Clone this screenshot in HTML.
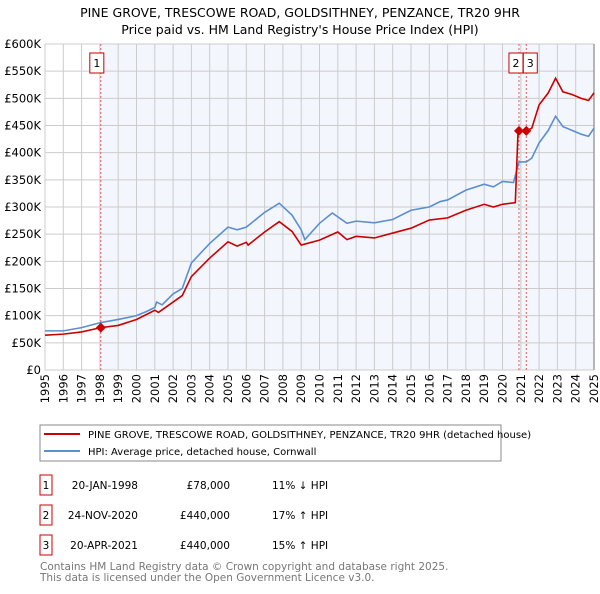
<!DOCTYPE html>
<html><head><meta charset="utf-8"><style>
body{margin:0;background:#fff;font-family:"DejaVu Sans","Liberation Sans",sans-serif;}
svg text{font-family:"DejaVu Sans","Liberation Sans",sans-serif;}
</style></head><body>
<svg id="chart" width="600" height="590" xmlns="http://www.w3.org/2000/svg">
<text x="300" y="17" text-anchor="middle" font-size="12.5" fill="#000">PINE GROVE, TRESCOWE ROAD, GOLDSITHNEY, PENZANCE, TR20 9HR</text>
<text x="300" y="34" text-anchor="middle" font-size="12.5" fill="#000">Price paid vs. HM Land Registry's House Price Index (HPI)</text>
<g id="plot"></g>
<g>
<rect x="40" y="425" width="461" height="36" fill="#fff" stroke="#888"/>
<line x1="44" y1="434" x2="80" y2="434" stroke="#cc0000" stroke-width="2"/>
<text x="88" y="438" font-size="10">PINE GROVE, TRESCOWE ROAD, GOLDSITHNEY, PENZANCE, TR20 9HR (detached house)</text>
<line x1="44" y1="451" x2="80" y2="451" stroke="#5b8fd0" stroke-width="2"/>
<text x="88" y="455" font-size="10">HPI: Average price, detached house, Cornwall</text>
</g>
<g id="table" font-size="10.5"></g>
<text x="40" y="570" font-size="10.5" fill="#777">Contains HM Land Registry data © Crown copyright and database right 2025.</text>
<text x="40" y="581" font-size="10.5" fill="#777">This data is licensed under the Open Government Licence v3.0.</text>
</svg>
<script>
const hpiYears=[1995,1996,1997,1998,1999,2000,2000.5,2001,2001.1,2001.4,2002,2002.5,2003,2004,2005,2005.5,2006,2007,2007.8,2008.5,2009,2009.2,2010,2010.7,2011.5,2012,2013,2014,2015,2016,2016.6,2017,2018,2019,2019.5,2020,2020.6,2020.9,2021.3,2021.6,2022,2022.5,2022.9,2023.3,2023.8,2024.3,2024.7,2025];
const hpiValues=[72,72,78,87,93,100,107,115,125,120,140,150,197,233,263,258,263,290,307,285,258,240,270,289,270,274,271,277,294,300,310,313,331,342,337,347,345,383,383,390,418,441,467,448,441,434,430,445];
const redYears=[1995,1996,1997,1998.05,1999,2000,2001,2001.2,2002,2002.5,2003,2004,2005,2005.5,2006,2006.1,2007,2007.8,2008.5,2009,2010,2011,2011.5,2012,2013,2014,2015,2016,2017,2018,2019,2019.5,2020,2020.7,2020.85,2021.3,2021.6,2022,2022.5,2022.9,2023.3,2023.8,2024.3,2024.7,2025];
const redValues=[64,66,70,78,82,93,110,106,125,137,172,206,236,228,235,230,254,273,255,230,239,254,240,246,243,252,261,276,280,294,305,300,305,308,440,440,445,488,510,537,512,507,500,496,510];
const saleYears=[1998.05,2020.9,2021.3];
const saleValues=[78,440,440];
const saleLabels=["1","2","3"];
const yTicks=[0,50,100,150,200,250,300,350,400,450,500,550,600];
const yTickLabels=["£0","£50K","£100K","£150K","£200K","£250K","£300K","£350K","£400K","£450K","£500K","£550K","£600K"];
const xTicks=[1995,1996,1997,1998,1999,2000,2001,2002,2003,2004,2005,2006,2007,2008,2009,2010,2011,2012,2013,2014,2015,2016,2017,2018,2019,2020,2021,2022,2023,2024,2025];
const tableDates=["20-JAN-1998","24-NOV-2020","20-APR-2021"];
const tablePrices=["£78,000","£440,000","£440,000"];
const tableHpi=["11% ↓ HPI","17% ↑ HPI","15% ↑ HPI"];

const X0=45,X1=594,Y0=370,Y1=44;
const xs=y=>X0+(y-1995)/30*(X1-X0);
const ys=v=>Y0-v/600*(Y0-Y1);
const NS="http://www.w3.org/2000/svg";
const plot=document.getElementById('plot');
function mk(tag,attrs,parent){const e=document.createElementNS(NS,tag);for(const k in attrs)e.setAttribute(k,attrs[k]);(parent||plot).appendChild(e);return e;}
let e;
e=mk('rect',{x:X0,y:Y1,width:X1-X0,height:Y0-Y1,fill:'#fff'});


e=mk('rect',{x:xs(saleYears[0]),y:Y1,width:X1-xs(saleYears[0]),height:Y0-Y1,fill:'#f3f6fd'});


yTicks.forEach((v,i)=>{
 e=mk('line',{x1:X0,x2:X1,y1:ys(v),y2:ys(v),stroke:'#cccccc','stroke-width':1});
 
 
 e=mk('text',{x:X0-4,y:ys(v)+4,'text-anchor':'end','font-size':11.5});
 e.textContent=yTickLabels[i];
 
 
});
xTicks.forEach(y=>{
 e=mk('line',{x1:xs(y),x2:xs(y),y1:Y1,y2:Y0,stroke:'#cccccc','stroke-width':1});
 
 
 const tx=xs(y)+4,ty=Y0+4;
 e=mk('text',{x:tx,y:ty,'text-anchor':'end','font-size':11.5,transform:`rotate(-90 ${tx} ${ty})`});
 e.textContent=y;
 
 
});
e=mk('line',{x1:X1,x2:X1,y1:Y1,y2:Y0,stroke:'#888','stroke-width':1.2});


saleYears.forEach((y,i)=>{
 e=mk('line',{x1:xs(y),x2:xs(y),y1:Y1,y2:Y0,stroke:'#e06060','stroke-width':1,'stroke-dasharray':'2,2'});
 
 
});
e=mk('polyline',{points:hpiYears.map((y,i)=>xs(y)+','+ys(hpiValues[i])).join(' '),fill:'none',stroke:'#5b8fd0','stroke-width':1.6});


e=mk('polyline',{points:redYears.map((y,i)=>xs(y)+','+ys(redValues[i])).join(' '),fill:'none',stroke:'#cc0000','stroke-width':1.6});


saleYears.forEach((y,i)=>{
 const cx=xs(y),cy=ys(saleValues[i]);
 e=mk('polygon',{points:`${cx},${cy-5} ${cx+5},${cy} ${cx},${cy+5} ${cx-5},${cy}`,fill:'#cc0000'});
 
 
});
saleYears.forEach((y,i)=>{
 const bx=i===0?xs(y)-11:(i===1?xs(y)-10:xs(y)-3);
 e=mk('rect',{x:bx,y:53,width:14,height:20,fill:'#fff',stroke:'#cc0000'});
 
 
 e=mk('text',{x:bx+7,y:67,'text-anchor':'middle','font-size':11});
 e.textContent=saleLabels[i];
 
 
});
const tb=document.getElementById('table');
tableDates.forEach((d,i)=>{
 const y=482+i*30;
 e=mk('rect',{x:40,y:y-7,width:12,height:20,fill:'#fff',stroke:'#cc0000'},tb);
 
 
 e=mk('text',{x:46,y:y+7,'text-anchor':'middle','font-size':10.5},tb);e.textContent=saleLabels[i];
 
 
 e=mk('text',{x:138,y:y+7,'text-anchor':'end','font-size':10.5},tb);e.textContent=d;
 
 
 e=mk('text',{x:230,y:y+7,'text-anchor':'end','font-size':10.5},tb);e.textContent=tablePrices[i];
 
 
 e=mk('text',{x:272,y:y+7,'font-size':10.5},tb);e.textContent=tableHpi[i];
 
 
});
</script>
</body></html>
